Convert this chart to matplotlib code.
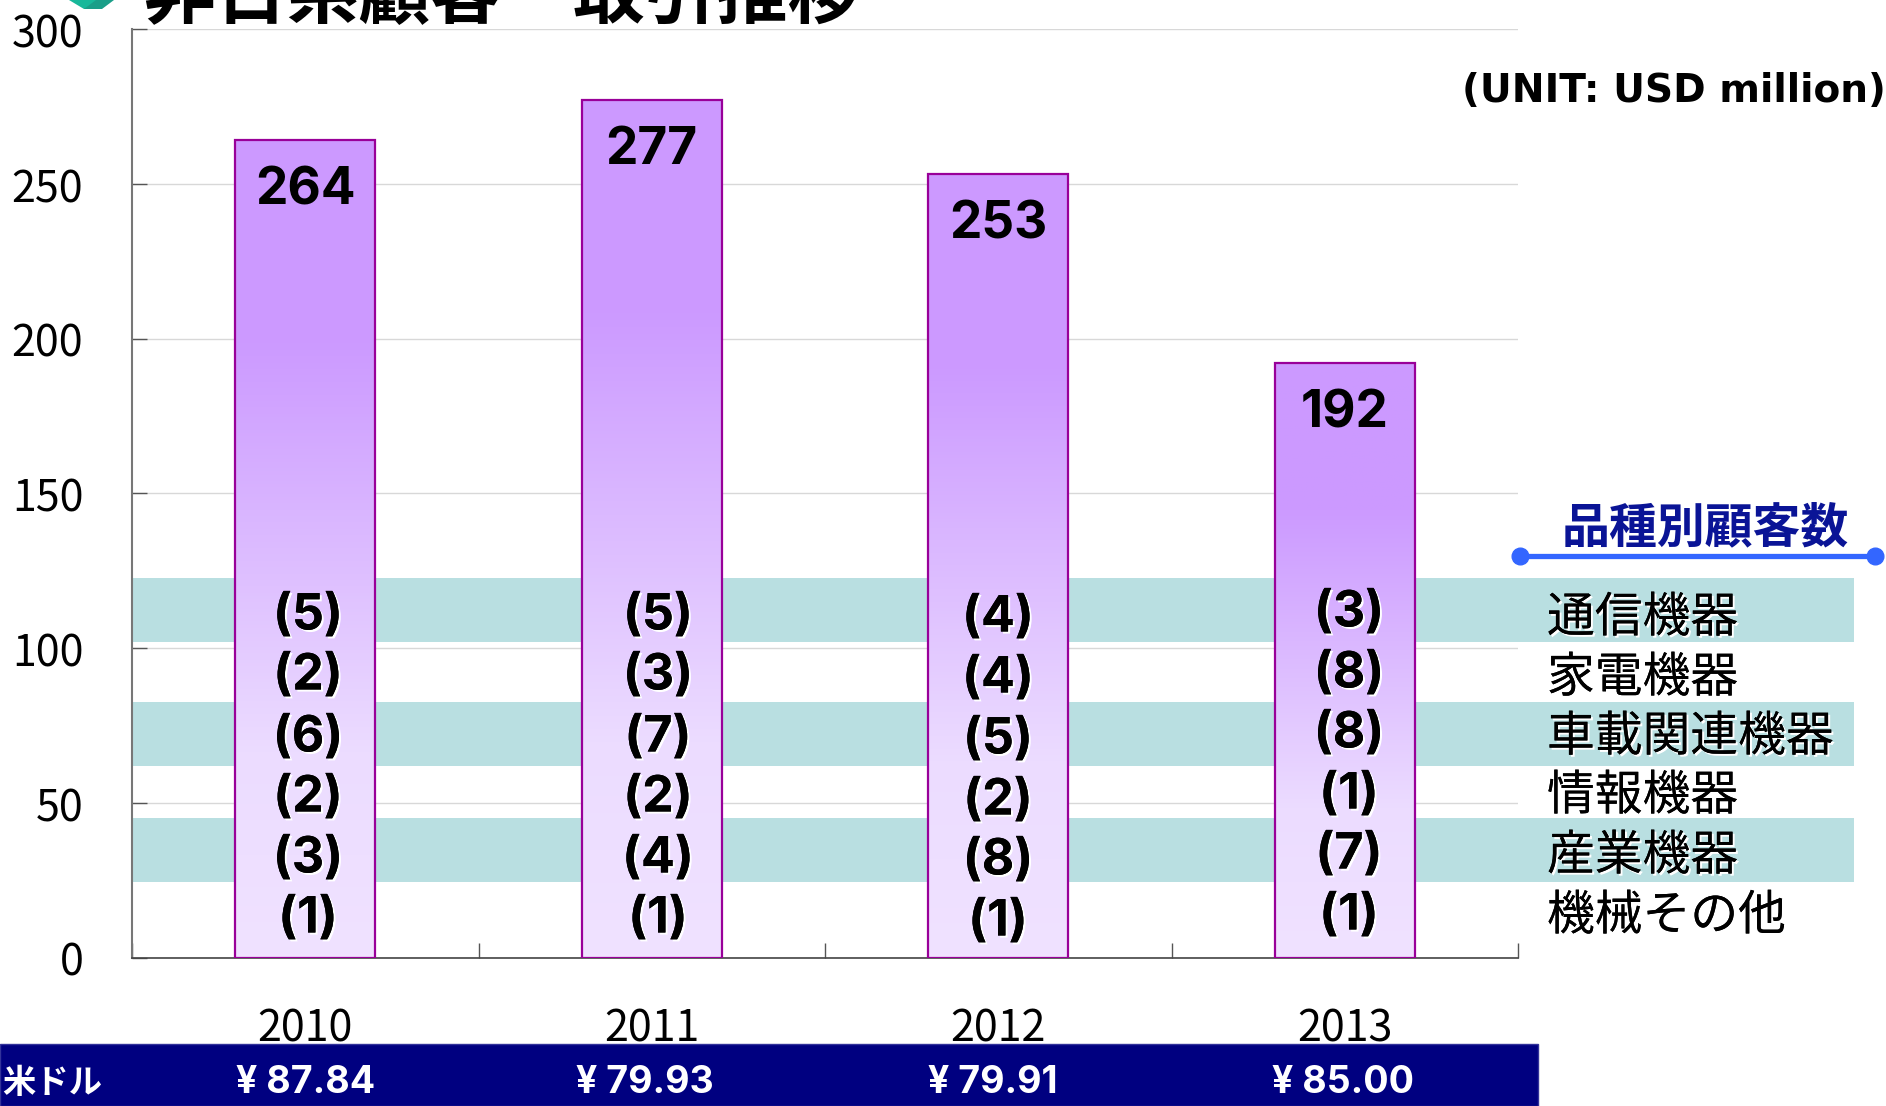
import numpy as np
import matplotlib
matplotlib.use("Agg")
import matplotlib.pyplot as plt
import matplotlib.patheffects as pe
from matplotlib.colors import LinearSegmentedColormap
from matplotlib.patches import Rectangle, Polygon
from matplotlib.transforms import ScaledTranslation

plt.rcParams['font.family'] = ['Noto Sans CJK JP', 'DejaVu Sans']

W, H = 1886, 1106

years = ["2010", "2011", "2012", "2013"]
sales = [264, 277, 253, 192]
usd_rates = ["¥ 87.84", "¥ 79.93", "¥ 79.91", "¥ 85.00"]
usd_label = "米ドル"
categories = ["通信機器", "家電機器", "車載関連機器", "情報機器", "産業機器", "機械その他"]
counts_2010 = [5, 2, 6, 2, 3, 1]
counts_2011 = [5, 3, 7, 2, 4, 1]
counts_2012 = [4, 4, 5, 2, 8, 1]
counts_2013 = [3, 8, 8, 1, 7, 1]
counts = [counts_2010, counts_2011, counts_2012, counts_2013]
yticks = [0, 50, 100, 150, 200, 250, 300]

fig = plt.figure(figsize=(W / 100, H / 100), dpi=100, facecolor="white")

# background layer in pixel coords, for the strips and the footer
bg = fig.add_axes([0, 0, 1, 1], zorder=0)
bg.set_xlim(0, W)
bg.set_ylim(H, 0)
bg.axis("off")

# chart
ax = fig.add_axes([132 / W, 1 - 957.5 / H, (1518 - 132) / W, (957.5 - 29) / H], zorder=1)
ax.patch.set_alpha(0)
ax.set_xlim(0, 4)
ax.set_ylim(0, 300)
ax.set_yticks(yticks)
ax.grid(axis="y", color="#d8d8d8", lw=1, zorder=0)
ax.set_axisbelow(True)
ax.tick_params(axis="y", direction="in", length=11, width=1, color="#555555",
               labelsize=31, pad=35)
ax.set_xticks(np.arange(4) + 0.5)
ax.set_xticklabels(years)
ax.tick_params(axis="x", which="major", length=0, labelsize=31, pad=36)
ax.set_xticks(np.arange(5), minor=True)
ax.tick_params(axis="x", which="minor", direction="in", length=11, width=1, color="#555555")
nudge = ScaledTranslation(0, -1 / 72, fig.dpi_scale_trans)
for t in ax.get_yticklabels():
    t.set_transform(t.get_transform() + nudge)
for s in ["top", "right"]:
    ax.spines[s].set_visible(False)
ax.spines["left"].set_color("#777777")
ax.spines["left"].set_linewidth(1.5)
ax.spines["bottom"].set_color("#444444")
ax.spines["bottom"].set_linewidth(1.2)

# strips behind everything
for top, bot in [(578, 642), (702, 766), (818, 882)]:
    bg.add_patch(Rectangle((131, top), 1854 - 131, bot - top, color="#b9dfe1", lw=0))

# footer
bg.add_patch(Rectangle((0, 1044), 1538, H - 1044, facecolor="#000080", edgecolor="#33339a", lw=1))
bg.text(2, 1084, usd_label, color="white", fontsize=24, fontweight="bold", va="center", ha="left")
for x, r in zip([306, 645, 993, 1343], usd_rates):
    bg.text(x, 1083, r, color="white", fontsize=27, fontweight="bold", va="center", ha="center",
            family=["Inter", "DejaVu Sans"])

# gradient bars
cmap = LinearSegmentedColormap.from_list("bar", [(0, "#f0e2ff"), (0.25, "#ecdcff"),
                                                 (0.75, "#cc9aff"), (1, "#cc99ff")])
grad = np.linspace(1, 0, 256).reshape(-1, 1)
width = 0.405
for i, v in enumerate(sales):
    b = ax.bar(i + 0.5, v, width, color="none", edgecolor="#990099", lw=1.6, zorder=4)[0]
    im = ax.imshow(grad, extent=[i + 0.5 - width / 2, i + 0.5 + width / 2, 0, v],
                   aspect="auto", cmap=cmap, vmin=0, vmax=1, zorder=3)
    im.set_clip_path(Rectangle((i + 0.5 - width / 2, 0), width, v, transform=ax.transData))
ax.set_xlim(0, 4)
ax.set_ylim(0, 300)

# value labels on the bars
for i, v in enumerate(sales):
    ax.annotate(str(v), (i + 0.5, v), xytext=(0, -36.5), textcoords="offset points",
                ha="center", va="center", fontsize=37, fontweight="bold", zorder=5,
                color="black", family=["Inter", "DejaVu Sans"])

# overlay for text in pixel coords
top = fig.add_axes([0, 0, 1, 1], zorder=2)
top.set_xlim(0, W)
top.set_ylim(H, 0)
top.axis("off")
shadow = [pe.withSimplePatchShadow(offset=(1.5, -1.5), shadow_rgbFace="white", alpha=1), pe.Normal()]

col_x = [308, 658, 998, 1349]
row_y = [[612, 672, 734, 794, 855, 915],
         [612, 672, 734, 794, 855, 915],
         [614, 675, 736, 797, 857, 918],
         [609, 670, 730, 791, 851, 912]]
for x, ys, col in zip(col_x, row_y, counts):
    for y, n in zip(ys, col):
        top.text(x, y + 4, "(%d)" % n, fontsize=36, fontweight="bold", ha="center", va="center",
                 path_effects=shadow, family=["Inter", "DejaVu Sans"])

label_y = [618, 678, 737, 796, 856, 916]
for y, c in zip(label_y, categories):
    top.text(1547, y, c, fontsize=34.4, ha="left", va="center", path_effects=shadow)

top.text(1705, 528, "品種別顧客数", fontsize=34.5, fontweight="bold", color="#0a1496",
         ha="center", va="center")
top.plot([1520, 1875], [556, 556], color="#3366ff", lw=3.8, marker="o", ms=12, solid_capstyle="butt")

top.text(1886, 91, "(UNIT: USD million)", fontsize=28.2, fontweight="bold", ha="right", va="center",
         family=["DejaVu Sans"])

# clipped title and logo at the very top
top.text(144, 18, "非日系顧客　取引推移", fontsize=51.5, fontweight="bold", ha="left", va="baseline")
top.add_patch(Polygon([[69, 0], [84, 9], [92, 9], [98, 0]], color="#18b89a", lw=0))
top.add_patch(Polygon([[84, 9], [102, 9], [114, 0], [96, 0]], color="#1a9e88", lw=0))

fig.savefig("out.png", dpi=100)
